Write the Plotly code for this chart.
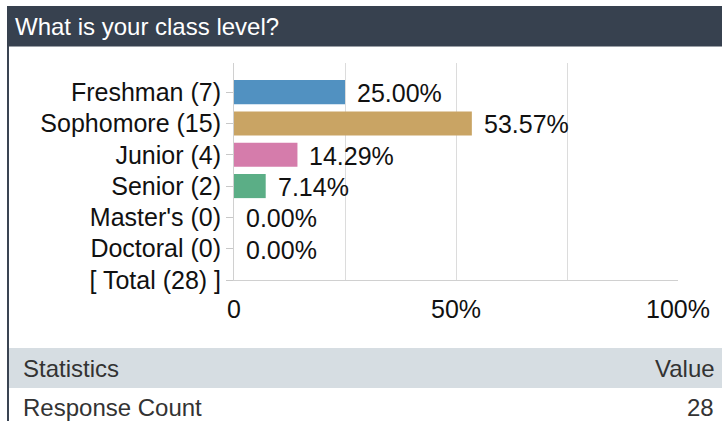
import plotly.graph_objects as go

W, H = 722, 421

title_text = "What is your class level?"
categories = ["Freshman (7)", "Sophomore (15)", "Junior (4)", "Senior (2)",
              "Master's (0)", "Doctoral (0)", "[ Total (28) ]"]
bar_categories = categories[:6]
percent_values = [25.00, 53.57, 14.29, 7.14, 0.00, 0.00]
bar_labels = ["25.00%", "53.57%", "14.29%", "7.14%", "0.00%", "0.00%"]
bar_colors = ["#5191c1", "#c9a464", "#d57cab", "#5bae86", "#888888", "#888888"]
x_tickvals = [0, 25, 50, 75, 100]
x_ticktext = ["0", "", "50%", "", "100%"]
stats_header = ["Statistics", "Value"]
stats_rows = [["Response Count", "28"]]

FONT = "Liberation Sans, Arial, sans-serif"
CHART_FS = 25
STATS_FS = 24


def px(x):
    return x / W


def py(y):
    return 1 - y / H


fig = go.Figure()
fig.add_trace(go.Bar(
    orientation="h",
    x=percent_values,
    y=bar_categories,
    marker=dict(color=bar_colors, line=dict(width=0)),
    width=0.77,
    hoverinfo="skip",
))

annotations = []
for v, c, t in zip(percent_values, bar_categories, bar_labels):
    annotations.append(dict(
        x=v, y=c, xref="x", yref="y", text=t, showarrow=False,
        xanchor="left", yanchor="middle", xshift=10, yshift=-1,
        font=dict(family=FONT, size=CHART_FS, color="#111111"),
    ))

annotations.append(dict(
    x=px(13), y=py(27), xref="paper", yref="paper", text=title_text,
    showarrow=False, xanchor="left", yanchor="middle",
    font=dict(family=FONT, size=24, color="#ffffff"),
))

annotations.append(dict(
    x=px(21), y=py(368), xref="paper", yref="paper", text=stats_header[0],
    showarrow=False, xanchor="left", yanchor="middle",
    font=dict(family=FONT, size=STATS_FS, color="#333333"),
))
annotations.append(dict(
    x=px(717), y=py(368), xref="paper", yref="paper", text=stats_header[1],
    showarrow=False, xanchor="right", yanchor="middle",
    font=dict(family=FONT, size=STATS_FS, color="#333333"),
))
for i, (lab, val) in enumerate(stats_rows):
    yc = 407 + 40 * i
    annotations.append(dict(
        x=px(21), y=py(yc), xref="paper", yref="paper", text=lab,
        showarrow=False, xanchor="left", yanchor="middle",
        font=dict(family=FONT, size=STATS_FS, color="#333333"),
    ))
    annotations.append(dict(
        x=px(716), y=py(yc), xref="paper", yref="paper", text=val,
        showarrow=False, xanchor="right", yanchor="middle",
        font=dict(family=FONT, size=STATS_FS, color="#333333"),
    ))

shapes = [
    dict(type="rect", xref="paper", yref="paper", x0=px(7), x1=1,
         y0=py(46.5), y1=py(6), fillcolor="#37414f", line=dict(width=0), layer="below"),
    dict(type="rect", xref="paper", yref="paper", x0=px(7), x1=px(9),
         y0=0, y1=py(46), fillcolor="#3a4452", line=dict(width=0), layer="below"),
    dict(type="rect", xref="paper", yref="paper", x0=px(9), x1=1,
         y0=py(388), y1=py(348), fillcolor="#d6dde2", line=dict(width=0), layer="below"),
]

fig.update_layout(
    width=W, height=H,
    autosize=False,
    margin=dict(l=0, r=0, t=0, b=0, pad=0),
    paper_bgcolor="#ffffff",
    plot_bgcolor="rgba(0,0,0,0)",
    showlegend=False,
    annotations=annotations,
    shapes=shapes,
    xaxis=dict(
        domain=[px(234), px(678)],
        range=[0, 100],
        tickmode="array", tickvals=x_tickvals, ticktext=x_ticktext,
        showgrid=True, gridcolor="#dcdcdc", gridwidth=1,
        zeroline=False, automargin=False,
        showline=True, linecolor="#d0d0d0", linewidth=1,
        ticks="", ticklabelstandoff=7,
        tickfont=dict(family=FONT, size=CHART_FS, color="#111111"),
        fixedrange=True,
    ),
    yaxis=dict(
        domain=[py(280), py(63)],
        type="category",
        categoryorder="array", categoryarray=categories,
        range=[6, -0.93],
        showgrid=False, zeroline=False, automargin=False,
        showline=True, linecolor="#d0d0d0", linewidth=1,
        ticks="outside", ticklen=7, tickcolor="#c8c8c8", tickwidth=1,
        tickfont=dict(family=FONT, size=CHART_FS, color="#111111"),
        fixedrange=True,
    ),
)

fig.write_html(
    "out.html",
    config={"displayModeBar": False, "responsive": False},
    post_script="document.body.style.margin='0';document.body.style.overflow='hidden';",
)
